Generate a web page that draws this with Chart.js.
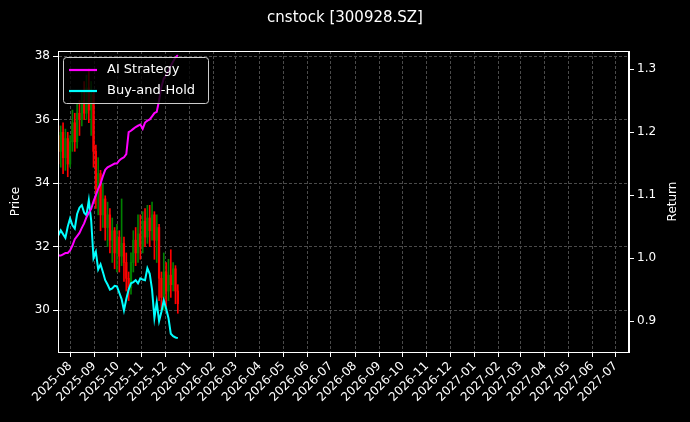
<!DOCTYPE html>
<html><head><meta charset="utf-8">
<script src="https://cdn.jsdelivr.net/npm/chart.js@4"></script>
<style>html,body{margin:0;background:#000}#w{width:690px;height:422px}</style>
</head><body><div id="w"><canvas id="c"></canvas></div>
<script>
const title = "cnstock [300928.SZ]";
const baseDate = Date.UTC(2025,6,17);
const days = [0,3,6,9,12,15,18,21,24,27,30,33,36,39,42,45,48,51,54,57,60,63,66,69,72,75,78,81,84,87,90,93,96,99,102,105,108,111,114,117,120,123,126,129,132,135,138,141,144,147,150,153];
const openP = [35.5,35.0,35.6,34.8,35.4,34.6,35.3,35.9,35.3,36.2,36.0,36.6,36.2,37.0,36.3,36.8,35.0,33.8,34.3,33.0,33.5,32.6,33.0,32.2,32.5,31.8,32.3,31.7,32.1,31.5,31.0,30.7,31.5,32.2,31.8,32.4,32.0,32.8,32.3,32.9,32.5,33.0,32.2,32.6,31.0,30.4,31.2,30.6,31.1,30.8,31.3,30.6];
const closeP = [35.0,35.6,34.8,35.4,34.6,35.3,35.9,35.3,36.2,36.0,36.6,36.2,37.0,36.3,36.8,35.0,33.8,34.3,33.0,33.5,32.6,33.0,32.2,32.5,31.8,32.3,31.7,32.1,31.5,31.0,30.7,31.5,32.2,31.8,32.4,32.0,32.8,32.3,32.9,32.5,33.0,32.2,32.6,31.0,30.4,31.2,30.6,31.1,30.8,31.3,30.6,30.2];
const highP = [35.8,35.8,35.9,35.7,35.6,35.5,36.3,36.2,36.5,36.6,36.9,37.2,37.4,37.6,37.2,36.9,35.2,34.8,34.4,34.0,33.6,33.4,33.2,32.9,32.6,32.7,32.5,33.5,32.3,31.8,31.2,31.8,32.5,32.6,33.0,33.0,33.1,33.2,33.3,33.3,33.4,33.1,33.0,32.7,31.2,31.8,31.5,31.6,31.9,31.5,31.4,30.8];
const lowP = [34.6,34.5,34.3,34.4,34.2,34.5,35.0,35.0,35.1,35.5,35.8,36.0,36.0,35.9,35.5,34.5,33.2,33.0,32.5,32.6,32.2,32.0,31.8,31.5,31.3,31.2,31.2,31.4,30.9,30.6,30.3,30.5,31.2,31.4,31.5,31.6,31.8,32.0,32.1,32.0,32.2,31.6,31.5,30.3,30.0,30.0,30.1,30.3,30.4,30.6,30.2,29.9];
const strategyRet = [1.004,1.004,1.006,1.008,1.008,1.012,1.020,1.030,1.035,1.040,1.048,1.055,1.065,1.072,1.078,1.090,1.100,1.110,1.118,1.130,1.140,1.144,1.146,1.148,1.150,1.150,1.155,1.158,1.160,1.165,1.200,1.202,1.205,1.208,1.210,1.212,1.205,1.215,1.218,1.220,1.225,1.230,1.232,1.250,1.272,1.285,1.290,1.298,1.305,1.312,1.318,1.322];
const buyHoldRet = [1.036,1.044,1.038,1.032,1.050,1.063,1.052,1.047,1.070,1.080,1.084,1.072,1.068,1.092,1.060,1.000,1.010,0.982,0.990,0.978,0.965,0.958,0.950,0.952,0.956,0.955,0.945,0.935,0.917,0.935,0.950,0.960,0.962,0.965,0.960,0.968,0.966,0.965,0.984,0.975,0.950,0.905,0.930,0.900,0.915,0.933,0.920,0.905,0.880,0.876,0.874,0.873];
const priceTicks = [30,32,34,36,38];
const retTicks = [0.9,1.0,1.1,1.2,1.3];

const DAY = 86400000;
const toDay = (y,m)=> (Date.UTC(y,m,1)-baseDate)/DAY;
const monthTicks = [];
for (let y=2025,m=7; y<2027 || m<=6; ){ monthTicks.push(toDay(y,m)); m++; if(m>11){m=0;y++;} }
const xMax = toDay(2027,6)+17;
const col = days.map((d,i)=> closeP[i]>=openP[i] ? '#008000' : '#ff0000');
const FONT = "'DejaVu Sans'";

const overlay = {
  id:'overlay',
  afterDraw(ch){
    const c = ch.ctx, a = ch.chartArea; c.save();
    c.strokeStyle='#fff'; c.lineWidth=1;
    c.strokeRect(a.left+0.5, a.top+0.5, a.right-a.left-1, a.bottom-a.top);
    c.fillStyle='#fff'; c.font="15px "+FONT; c.textAlign='center'; c.textBaseline='middle';
    c.fillText(title, 345, 18);
    c.font="12px "+FONT;
    c.save(); c.translate(16,(a.top+a.bottom)/2); c.rotate(-Math.PI/2); c.fillText('Price',0,0); c.restore();
    c.save(); c.translate(673,(a.top+a.bottom)/2); c.rotate(-Math.PI/2); c.fillText('Return',0,0); c.restore();
    // legend
    const x0=a.left+5, y0=a.top+6;
    c.fillStyle='rgba(0,0,0,0.8)'; c.strokeStyle='#ccc'; c.lineWidth=1;
    c.beginPath(); c.roundRect(x0+0.5,y0+0.5,145,46,3); c.fill(); c.stroke();
    c.font="13px "+FONT; c.textAlign='left';
    [['AI Strategy','#ff00ff'],['Buy-and-Hold','#00ffff']].forEach((e,i)=>{
      const yy=y0+13+i*21;
      c.strokeStyle=e[1]; c.lineWidth=2.2; c.beginPath(); c.moveTo(x0+6,yy); c.lineTo(x0+34,yy); c.stroke();
      c.fillStyle='#fff'; c.fillText(e[0], x0+44, yy);
    });
    c.restore();
  }
};

new Chart(document.getElementById('c'), {
  type:'bar',
  data:{datasets:[
    {type:'line', label:'AI Strategy', yAxisID:'yr', data:days.map((d,i)=>({x:d,y:strategyRet[i]})), borderColor:'#ff00ff', borderWidth:2, pointRadius:0, tension:0},
    {type:'line', label:'Buy-and-Hold', yAxisID:'yr', data:days.map((d,i)=>({x:d,y:buyHoldRet[i]})), borderColor:'#00ffff', borderWidth:2, pointRadius:0, tension:0},
    {label:'wick', yAxisID:'y', data:days.map((d,i)=>({x:d,y:[lowP[i],highP[i]]})), backgroundColor:col, barThickness:1, grouped:false, order:5},
    {label:'body', yAxisID:'y', data:days.map((d,i)=>({x:d,y:[Math.min(openP[i],closeP[i]),Math.max(openP[i],closeP[i])]})), backgroundColor:col, barThickness:1.6, grouped:false, order:4}
  ]},
  plugins:[overlay],
  options:{
    responsive:true, maintainAspectRatio:false, animation:false,
    layout:{padding:{top:51,left:0,right:0,bottom:0}},
    plugins:{legend:{display:false}, tooltip:{enabled:false}},
    scales:{
      x:{type:'linear', min:-0.5, max:xMax, offset:false,
        afterBuildTicks(s){ s.ticks = monthTicks.map(v=>({value:v})); },
        afterFit(s){ s.height=70; },
        ticks:{color:'#fff', font:{family:FONT,size:12}, minRotation:45, maxRotation:45, autoSkip:false, padding:2,
          callback(v){ const d=new Date(baseDate+v*DAY); return d.getUTCFullYear()+'-'+String(d.getUTCMonth()+1).padStart(2,'0'); }},
        grid:{color:'#4a4a4a', tickColor:'#fff', tickLength:5, offset:false},
        border:{color:'#fff', dash:[3,2]}
      },
      y:{position:'left', min:28.68, max:38.16,
        afterBuildTicks(s){ s.ticks = priceTicks.map(v=>({value:v})); },
        afterFit(s){ s.width=58; },
        ticks:{color:'#fff', font:{family:FONT,size:12}},
        grid:{color:'#4a4a4a', tickColor:'#fff', tickLength:5},
        border:{color:'#fff', dash:[3,2]}
      },
      yr:{position:'right', min:0.851, max:1.3286,
        afterBuildTicks(s){ s.ticks = retTicks.map(v=>({value:v})); },
        afterFit(s){ s.width=61; },
        ticks:{color:'#fff', font:{family:FONT,size:12}, callback:v=>v.toFixed(1)},
        grid:{drawOnChartArea:false, tickColor:'#fff', tickLength:5},
        border:{color:'#fff'}
      }
    }
  }
});
</script></body></html>
